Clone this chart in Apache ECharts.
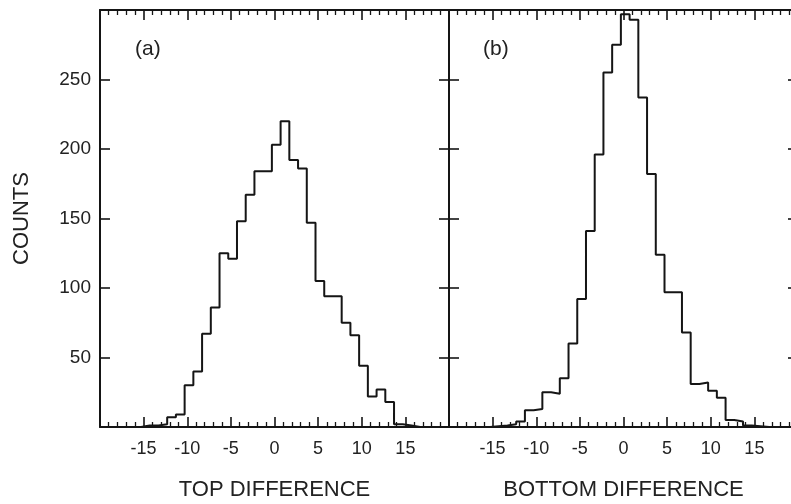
<!DOCTYPE html>
<html><head><meta charset="utf-8">
<script src="https://cdn.jsdelivr.net/npm/echarts@6/dist/echarts.min.js"></script>
<style>html,body{margin:0;padding:0;background:#fff}#c{width:791px;height:504px}</style>
</head><body><div id="c"></div>
<script>
// ---- data ----
const binLeftEdgesA = [-16.3,-15.3,-14.3,-13.3,-12.3,-11.3,-10.3,-9.3,-8.3,-7.3,-6.3,-5.3,-4.3,-3.3,-2.3,-1.3,-0.3,0.7,1.7,2.7,3.7,4.7,5.7,6.7,7.7,8.7,9.7,10.7,11.7,12.7,13.7,14.7,15.7];
const countsA =       [0,1,1,2,7,9,30,40,67,86,125,121,148,167,184,184,203,220,192,186,147,105,94,94,75,66,44,22,27,18,2,1,0];
const binLeftEdgesB = [-16.3,-15.3,-14.3,-13.3,-12.3,-11.3,-10.3,-9.3,-8.3,-7.3,-6.3,-5.3,-4.3,-3.3,-2.3,-1.3,-0.3,0.7,1.7,2.7,3.7,4.7,5.7,6.7,7.7,8.7,9.7,10.7,11.7,12.7,13.7,14.7,15.7];
const countsB =       [0,0.5,1,2,4,12,13,25,24,35,60,92,141,196,255,275,297,293,237,182,124,97,97,68,31,32,26,21,5,4,1,0.5,0];
const binWidth = 1;
const xTickLabels = [-15,-10,-5,0,5,10,15];
const yTickLabels = [50,100,150,200,250];
const panelLabels = ['(a)','(b)'];
const xTitles = ['TOP DIFFERENCE','BOTTOM DIFFERENCE'];
const yTitle = 'COUNTS';

// ---- chart ----
const FONT = 'Liberation Sans, Arial, Helvetica, sans-serif';
const INK = '#151515';
function stepPoints(edges, counts){
  const pts = edges.map((e,i)=>[e, counts[i]]);
  pts.push([edges[edges.length-1]+binWidth, counts[counts.length-1]]);
  return pts;
}
const axisLine = {show:true, onZero:false, lineStyle:{color:INK, width:2}};
function xAxisDef(g, pos, labels, name){
  return {
    type:'value', gridIndex:g, position:pos, min:-20, max:20, interval:5,
    axisLine, splitLine:{show:false},
    axisTick:{show:true, inside:true, length:10, lineStyle:{color:INK, width:1.6}},
    minorTick:{show:true, splitNumber:5, length:5, lineStyle:{color:INK, width:1.3}},
    axisLabel:{show:labels, margin:13, fontFamily:FONT, fontSize:18, color:'#222',
      formatter:v=> xTickLabels.includes(v) ? String(v) : ''},
    name: name || '', nameLocation:'middle', nameGap:52,
    nameTextStyle:{fontFamily:FONT, fontSize:22, color:'#222'}
  };
}
function yAxisDef(g, pos, labels, name){
  return {
    type:'value', gridIndex:g, position:pos, min:0, max:300, interval:50,
    axisLine, splitLine:{show:false},
    axisTick:{show:true, inside:true, length:10, lineStyle:{color:INK, width:1.6}},
    axisLabel:{show:labels, margin:9, fontFamily:FONT, fontSize:19, color:'#222',
      formatter:v=> yTickLabels.includes(v) ? String(v) : ''},
    name: name || '', nameLocation:'middle', nameGap:67, nameRotate:90,
    nameTextStyle:{fontFamily:FONT, fontSize:22, color:'#222'}
  };
}
const chart = echarts.init(document.getElementById('c'), null, {renderer:'canvas'});
chart.setOption({
  backgroundColor:'#fff',
  animation:false,
  grid:[
    {left:100, top:10, width:349, height:417, containLabel:false, outerBoundsMode:'none'},
    {left:449, top:10, width:349, height:417, containLabel:false, outerBoundsMode:'none'}
  ],
  xAxis:[
    xAxisDef(0,'bottom',true,xTitles[0]), xAxisDef(0,'top',false),
    xAxisDef(1,'bottom',true,xTitles[1]), xAxisDef(1,'top',false)
  ],
  yAxis:[
    yAxisDef(0,'left',true,yTitle), yAxisDef(0,'right',false),
    yAxisDef(1,'left',false), yAxisDef(1,'right',false)
  ],
  series:[
    {type:'line', xAxisIndex:0, yAxisIndex:0, step:'end', symbol:'none',
     lineStyle:{color:INK, width:2}, data:stepPoints(binLeftEdgesA, countsA)},
    {type:'line', xAxisIndex:2, yAxisIndex:2, step:'end', symbol:'none',
     lineStyle:{color:INK, width:2}, data:stepPoints(binLeftEdgesB, countsB)}
  ],
  graphic:[
    {type:'text', left:135, top:39, style:{text:panelLabels[0], font:'21px '+FONT, fill:'#222'}},
    {type:'text', left:483, top:39, style:{text:panelLabels[1], font:'21px '+FONT, fill:'#222'}}
  ]
});
</script></body></html>
